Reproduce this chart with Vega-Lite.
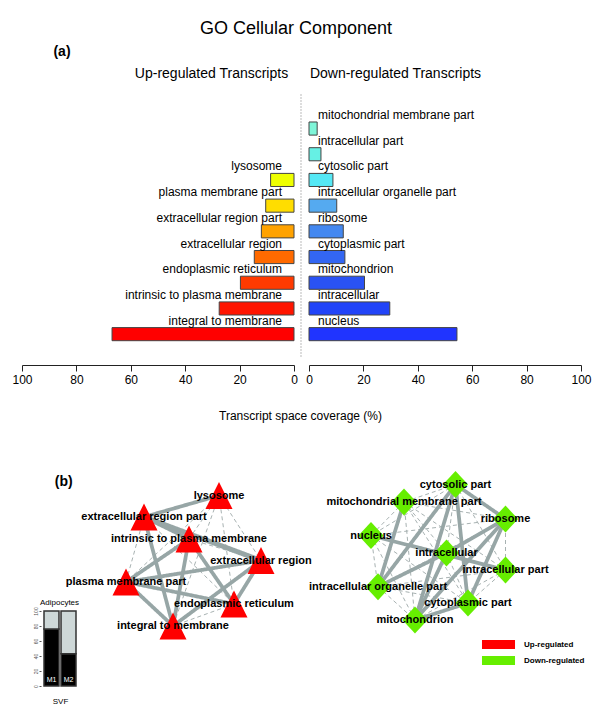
{
  "$schema": "https://vega.github.io/schema/vega-lite/v6.json",
  "width": 600,
  "height": 717,
  "autosize": {"type": "none"},
  "padding": 0,
  "background": "white",
  "config": {
    "view": {"stroke": null},
    "font": "Liberation Sans",
    "axis": {"labelFont": "Liberation Sans", "titleFont": "Liberation Sans", "grid": false, "labelColor": "#000", "titleColor": "#000"},
    "text": {"font": "Liberation Sans", "color": "#000"},
    "legend": {"labelFont": "Liberation Sans"}
  },
  "title": {"text": "GO Cellular Component", "fontSize": 18, "fontWeight": "normal", "font": "Liberation Sans", "color": "#000", "anchor": "middle", "frame": "group", "offset": -38, "dx": -4},
  "datasets": {
    "bars": [
      {"side": "up", "term": "lysosome", "slot": 3, "coverage": 8.6},
      {"side": "up", "term": "plasma membrane part", "slot": 4, "coverage": 10.4},
      {"side": "up", "term": "extracellular region part", "slot": 5, "coverage": 12.0},
      {"side": "up", "term": "extracellular region", "slot": 6, "coverage": 14.6},
      {"side": "up", "term": "endoplasmic reticulum", "slot": 7, "coverage": 19.7},
      {"side": "up", "term": "intrinsic to plasma membrane", "slot": 8, "coverage": 27.5},
      {"side": "up", "term": "integral to membrane", "slot": 9, "coverage": 66.9},
      {"side": "down", "term": "mitochondrial membrane part", "slot": 1, "coverage": 3.0},
      {"side": "down", "term": "intracellular part", "slot": 2, "coverage": 4.4},
      {"side": "down", "term": "cytosolic part", "slot": 3, "coverage": 8.8},
      {"side": "down", "term": "intracellular organelle part", "slot": 4, "coverage": 10.2},
      {"side": "down", "term": "ribosome", "slot": 5, "coverage": 12.6},
      {"side": "down", "term": "cytoplasmic part", "slot": 6, "coverage": 13.2},
      {"side": "down", "term": "mitochondrion", "slot": 7, "coverage": 20.4},
      {"side": "down", "term": "intracellular", "slot": 8, "coverage": 29.7},
      {"side": "down", "term": "nucleus", "slot": 9, "coverage": 54.4}
    ],
    "nodes": [
      {"id": "L", "label": "lysosome", "reg": "Up-regulated", "x": 119, "y": 15.5},
      {"id": "ERP", "label": "extracellular region part", "reg": "Up-regulated", "x": 44, "y": 37},
      {"id": "ITPM", "label": "intrinsic to plasma membrane", "reg": "Up-regulated", "x": 89, "y": 59},
      {"id": "ER", "label": "extracellular region", "reg": "Up-regulated", "x": 161, "y": 80.5},
      {"id": "PMP", "label": "plasma membrane part", "reg": "Up-regulated", "x": 26, "y": 102},
      {"id": "EndR", "label": "endoplasmic reticulum", "reg": "Up-regulated", "x": 134, "y": 124},
      {"id": "ITM", "label": "integral to membrane", "reg": "Up-regulated", "x": 73, "y": 146},
      {"id": "CP", "label": "cytosolic part", "reg": "Down-regulated", "x": 355.5, "y": 4.5},
      {"id": "MMP", "label": "mitochondrial membrane part", "reg": "Down-regulated", "x": 304, "y": 22},
      {"id": "R", "label": "ribosome", "reg": "Down-regulated", "x": 405.5, "y": 39},
      {"id": "N", "label": "nucleus", "reg": "Down-regulated", "x": 271, "y": 55.5},
      {"id": "IC", "label": "intracellular", "reg": "Down-regulated", "x": 346.5, "y": 73},
      {"id": "IP", "label": "intracellular part", "reg": "Down-regulated", "x": 405.5, "y": 90},
      {"id": "IOP", "label": "intracellular organelle part", "reg": "Down-regulated", "x": 278, "y": 106.7},
      {"id": "CYP", "label": "cytoplasmic part", "reg": "Down-regulated", "x": 368, "y": 123},
      {"id": "M", "label": "mitochondrion", "reg": "Down-regulated", "x": 315, "y": 140}
    ],
    "edges": [
      {"s": "L", "t": "ITPM", "k": "weak", "w": 0.2},
      {"s": "L", "t": "ER", "k": "weak", "w": 0.2},
      {"s": "L", "t": "PMP", "k": "weak", "w": 0.2},
      {"s": "L", "t": "EndR", "k": "weak", "w": 0.2},
      {"s": "L", "t": "ITM", "k": "weak", "w": 0.2},
      {"s": "ERP", "t": "PMP", "k": "weak", "w": 0.2},
      {"s": "ERP", "t": "EndR", "k": "weak", "w": 0.2},
      {"s": "ITPM", "t": "ER", "k": "weak", "w": 0.2},
      {"s": "EndR", "t": "ITM", "k": "weak", "w": 0.2},
      {"s": "CP", "t": "MMP", "k": "weak", "w": 0.2},
      {"s": "CP", "t": "N", "k": "weak", "w": 0.2},
      {"s": "CP", "t": "IC", "k": "weak", "w": 0.2},
      {"s": "CP", "t": "IP", "k": "weak", "w": 0.2},
      {"s": "MMP", "t": "R", "k": "weak", "w": 0.2},
      {"s": "MMP", "t": "N", "k": "weak", "w": 0.2},
      {"s": "MMP", "t": "IC", "k": "weak", "w": 0.2},
      {"s": "MMP", "t": "IP", "k": "weak", "w": 0.2},
      {"s": "MMP", "t": "CYP", "k": "weak", "w": 0.2},
      {"s": "MMP", "t": "M", "k": "weak", "w": 0.2},
      {"s": "R", "t": "N", "k": "weak", "w": 0.2},
      {"s": "R", "t": "IP", "k": "weak", "w": 0.2},
      {"s": "R", "t": "IOP", "k": "weak", "w": 0.2},
      {"s": "N", "t": "IC", "k": "weak", "w": 0.2},
      {"s": "N", "t": "IOP", "k": "weak", "w": 0.2},
      {"s": "N", "t": "CYP", "k": "weak", "w": 0.2},
      {"s": "N", "t": "M", "k": "weak", "w": 0.2},
      {"s": "IC", "t": "IP", "k": "weak", "w": 0.2},
      {"s": "IC", "t": "CYP", "k": "weak", "w": 0.2},
      {"s": "IP", "t": "IOP", "k": "weak", "w": 0.2},
      {"s": "IP", "t": "CYP", "k": "weak", "w": 0.2},
      {"s": "IP", "t": "M", "k": "weak", "w": 0.2},
      {"s": "IOP", "t": "CYP", "k": "weak", "w": 0.2},
      {"s": "IOP", "t": "M", "k": "weak", "w": 0.2},
      {"s": "L", "t": "ERP", "k": "strong", "w": 0.75},
      {"s": "ERP", "t": "ITPM", "k": "strong", "w": 0.75},
      {"s": "ERP", "t": "ER", "k": "strong", "w": 1.0},
      {"s": "ERP", "t": "ITM", "k": "strong", "w": 0.75},
      {"s": "ITPM", "t": "PMP", "k": "strong", "w": 0.75},
      {"s": "ITPM", "t": "EndR", "k": "strong", "w": 0.75},
      {"s": "ITPM", "t": "ITM", "k": "strong", "w": 0.75},
      {"s": "ER", "t": "PMP", "k": "strong", "w": 0.75},
      {"s": "ER", "t": "EndR", "k": "strong", "w": 0.75},
      {"s": "ER", "t": "ITM", "k": "strong", "w": 0.75},
      {"s": "PMP", "t": "EndR", "k": "strong", "w": 0.75},
      {"s": "PMP", "t": "ITM", "k": "strong", "w": 0.75},
      {"s": "CP", "t": "R", "k": "strong", "w": 0.75},
      {"s": "CP", "t": "IOP", "k": "strong", "w": 0.75},
      {"s": "CP", "t": "CYP", "k": "strong", "w": 0.75},
      {"s": "CP", "t": "M", "k": "strong", "w": 0.75},
      {"s": "MMP", "t": "IOP", "k": "strong", "w": 0.75},
      {"s": "R", "t": "IC", "k": "strong", "w": 0.75},
      {"s": "R", "t": "CYP", "k": "strong", "w": 0.75},
      {"s": "R", "t": "M", "k": "strong", "w": 0.75},
      {"s": "N", "t": "IP", "k": "strong", "w": 0.75},
      {"s": "IC", "t": "IOP", "k": "strong", "w": 0.75},
      {"s": "IC", "t": "M", "k": "strong", "w": 0.75},
      {"s": "CYP", "t": "M", "k": "strong", "w": 0.75}
    ],
    "inset": [
      {"module": "M1", "cell": "SVF", "pct": 76},
      {"module": "M1", "cell": "Adipocytes", "pct": 24},
      {"module": "M2", "cell": "SVF", "pct": 43},
      {"module": "M2", "cell": "Adipocytes", "pct": 57}
    ]
  },
  "layer": [
    {
      "data": {"name": "bars"},
      "transform": [{"filter": "datum.side === 'up'"}],
      "encoding": {
        "x": {"field": "coverage", "type": "quantitative",
          "scale": {"domain": [0, 100], "range": [294, 22], "nice": false},
          "axis": {"orient": "bottom", "offset": -352, "values": [0, 20, 40, 60, 80, 100], "tickSize": 6, "tickColor": "#222", "domainColor": "#222", "labelFontSize": 12, "labelPadding": 3, "labelFlush": false,
            "title": "Transcript space coverage (%)", "titleFontSize": 12, "titleFontWeight": "normal", "titleX": 300, "titleY": 50, "titleAlign": "center", "titleBaseline": "middle"}},
        "y": {"field": "slot", "type": "ordinal",
          "scale": {"domain": [1, 2, 3, 4, 5, 6, 7, 8, 9], "range": [94, 357], "paddingInner": 0.49, "paddingOuter": 0.8616, "align": 0.632},
          "axis": {"orient": "left", "domain": false, "ticks": false, "labels": false, "title": "Up-regulated Transcripts", "titleAngle": 0, "titleX": 211, "titleY": 73, "titleFontSize": 14, "titleFontWeight": "normal", "titleAlign": "center", "titleBaseline": "middle"}}
      },
      "layer": [
        {"mark": {"type": "bar", "stroke": "#444", "strokeWidth": 1},
          "encoding": {"fill": {"field": "term", "type": "nominal", "legend": null,
            "scale": {"domain": ["lysosome", "plasma membrane part", "extracellular region part", "extracellular region", "endoplasmic reticulum", "intrinsic to plasma membrane", "integral to membrane"],
              "range": ["#EEFF00", "#FFDD00", "#FFA200", "#FF6A00", "#FF3A00", "#FF1500", "#FF0000"]}}}},
        {"mark": {"type": "text", "align": "right", "baseline": "middle", "dx": -12, "dy": -13.5, "fontSize": 12},
          "encoding": {"x": {"datum": 0, "type": "quantitative"}, "text": {"field": "term"}}}
      ]
    },
    {
      "data": {"name": "bars"},
      "transform": [{"filter": "datum.side === 'down'"}],
      "encoding": {
        "x": {"field": "coverage", "type": "quantitative",
          "scale": {"domain": [0, 100], "range": [309, 581], "nice": false},
          "axis": {"orient": "bottom", "offset": -352, "values": [0, 20, 40, 60, 80, 100], "tickSize": 6, "tickColor": "#222", "domainColor": "#222", "labelFontSize": 12, "labelPadding": 3, "labelFlush": false,
            "title": "(a)", "titleFontSize": 14, "titleFontWeight": "bold", "titleX": 61.5, "titleY": -314, "titleAlign": "center", "titleBaseline": "middle"}},
        "y": {"field": "slot", "type": "ordinal",
          "scale": {"domain": [1, 2, 3, 4, 5, 6, 7, 8, 9], "range": [94, 357], "paddingInner": 0.49, "paddingOuter": 0.8616, "align": 0.632},
          "axis": {"orient": "left", "offset": -300.5, "domain": true, "domainDash": [1, 2], "domainColor": "#777", "domainWidth": 1, "ticks": false, "labels": false, "title": "Down-regulated Transcripts", "titleAngle": 0, "titleX": 94.5, "titleY": 73, "titleFontSize": 14, "titleFontWeight": "normal", "titleAlign": "center", "titleBaseline": "middle"}}
      },
      "layer": [
        {"mark": {"type": "bar", "stroke": "#444", "strokeWidth": 1},
          "encoding": {"fill": {"field": "term", "type": "nominal", "legend": null,
            "scale": {"domain": ["mitochondrial membrane part", "intracellular part", "cytosolic part", "intracellular organelle part", "ribosome", "cytoplasmic part", "mitochondrion", "intracellular", "nucleus"],
              "range": ["#7FF5D8", "#66F0E4", "#55E8F5", "#55AAF0", "#4488F0", "#3366F2", "#2A52F4", "#2244F8", "#2034FF"]}}}},
        {"mark": {"type": "text", "align": "left", "baseline": "middle", "dx": 9, "dy": -13.5, "fontSize": 12},
          "encoding": {"x": {"datum": 0, "type": "quantitative"}, "text": {"field": "term"}}}
      ]
    },
    {
      "encoding": {
        "x": {"field": "x", "type": "quantitative", "scale": {"domain": [0, 500], "range": [100, 600], "nice": false, "zero": false},
          "axis": {"orient": "bottom", "offset": -37, "labels": false, "ticks": false, "domain": false, "title": "(b)", "titleFontSize": 14, "titleFontWeight": "bold", "titleX": 63.3, "titleY": -198.3, "titleAlign": "center", "titleBaseline": "middle"}},
        "y": {"field": "y", "type": "quantitative", "scale": {"domain": [0, 200], "range": [480, 680], "nice": false, "zero": false}, "axis": null}
      },
      "layer": [
        {
          "data": {"values": []},
          "mark": {"type": "point", "filled": true, "opacity": 1, "shape": "M-3.67,-1L3.67,-1L3.67,1L-3.67,1Z"},
          "encoding": {
            "color": {"field": "reg", "type": "nominal",
              "scale": {"domain": ["Up-regulated", "Down-regulated"], "range": ["#FF0000", "#66EE00"]},
              "legend": {"title": null, "orient": "none", "legendX": 494, "legendY": 640, "padding": 0, "symbolType": "M-3.67,-1L3.67,-1L3.67,1L-3.67,1Z", "symbolSize": 81, "symbolStrokeWidth": 0, "symbolOpacity": 1, "labelFontSize": 8, "labelFontWeight": "bold", "labelOffset": 21, "rowPadding": 7, "labelColor": "#000"}}
          }
        },
        {
          "data": {"name": "edges"},
          "transform": [
            {"lookup": "s", "from": {"data": {"name": "nodes"}, "key": "id", "fields": ["x", "y"]}, "as": ["x", "y"]},
            {"lookup": "t", "from": {"data": {"name": "nodes"}, "key": "id", "fields": ["x", "y"]}, "as": ["tx", "ty"]}
          ],
          "mark": {"type": "rule"},
          "encoding": {
            "x2": {"field": "tx"},
            "y2": {"field": "ty"},
            "stroke": {"field": "k", "type": "nominal", "legend": null, "scale": {"domain": ["weak", "strong"], "range": ["#A8B2B2", "#97A6A6"]}},
            "strokeDash": {"field": "k", "type": "nominal", "legend": null, "scale": {"domain": ["weak", "strong"], "range": [[4, 3], [1, 0]]}},
            "strokeWidth": {"field": "w", "type": "quantitative", "legend": null, "scale": {"domain": [0, 1], "range": [0, 5]}}
          }
        },
        {
          "data": {"name": "nodes"},
          "transform": [{"filter": "datum.reg === 'Up-regulated'"}],
          "mark": {"type": "point", "filled": true, "opacity": 1, "size": 729, "strokeWidth": 0, "shape": "M0,-1L-1,1L1,1Z"},
          "encoding": {
            "color": {"field": "reg", "type": "nominal", "legend": null,
              "scale": {"domain": ["Up-regulated", "Down-regulated"], "range": ["#FF0000", "#66EE00"]}}
          }
        },
        {
          "data": {"name": "nodes"},
          "transform": [{"filter": "datum.reg === 'Down-regulated'"}],
          "mark": {"type": "point", "filled": true, "opacity": 1, "size": 729, "strokeWidth": 0, "shape": "M0,-1L0.93,0L0,1L-0.93,0Z"},
          "encoding": {
            "color": {"field": "reg", "type": "nominal", "legend": null,
              "scale": {"domain": ["Up-regulated", "Down-regulated"], "range": ["#FF0000", "#66EE00"]}}
          }
        },
        {
          "data": {"name": "nodes"},
          "mark": {"type": "text", "fontSize": 11, "fontWeight": "bold", "align": "center", "baseline": "middle"},
          "encoding": {"text": {"field": "label"}}
        },
        {
          "mark": {"type": "text", "fontSize": 14, "align": "center", "baseline": "middle", "text": "Module 1"},
          "encoding": {"x": {"datum": 97, "type": "quantitative"}, "y": {"datum": 206, "type": "quantitative"}}
        },
        {
          "mark": {"type": "text", "fontSize": 14, "align": "center", "baseline": "middle", "text": "Module 2"},
          "encoding": {"x": {"datum": 348, "type": "quantitative"}, "y": {"datum": 206, "type": "quantitative"}}
        }
      ]
    },
    {
      "data": {"name": "inset"},
      "encoding": {
        "x": {"field": "module", "type": "nominal",
          "scale": {"domain": ["M1", "M2"], "range": [44, 76], "paddingInner": 0.12, "paddingOuter": 0},
          "axis": {"orient": "bottom", "offset": -31, "labels": false, "ticks": false, "domain": false, "title": "SVF", "titleFontSize": 8, "titleFontWeight": "normal", "titleX": 60, "titleY": 15, "titleAlign": "center", "titleBaseline": "middle"}}
      },
      "layer": [
        {
          "mark": {"type": "bar", "stroke": "#333", "strokeWidth": 1.5},
          "encoding": {
            "y": {"field": "pct", "type": "quantitative", "stack": "zero",
              "scale": {"domain": [0, 100], "range": [686, 611], "nice": false},
              "axis": {"orient": "left", "offset": -41, "values": [0, 20, 40, 60, 80, 100], "labelAngle": -90, "labelFontSize": 5, "labelColor": "#555", "tickSize": 2, "tickColor": "#555", "domain": false, "labelPadding": 1, "labelAlign": "center", "labelBaseline": "bottom",
                "title": "Adipocytes", "titleAngle": 0, "titleX": 18, "titleY": 602, "titleFontSize": 8, "titleFontWeight": "normal", "titleAlign": "center", "titleBaseline": "middle"}},
            "fill": {"field": "cell", "type": "nominal", "legend": null, "scale": {"domain": ["SVF", "Adipocytes"], "range": ["#000000", "#CED8D8"]}},
            "order": {"field": "cell", "sort": "descending"}
          }
        },
        {
          "transform": [{"filter": "datum.cell === 'SVF'"}],
          "mark": {"type": "text", "color": "white", "fontSize": 7, "dy": -6, "baseline": "middle"},
          "encoding": {
            "y": {"datum": 0, "type": "quantitative"},
            "text": {"field": "module"}
          }
        }
      ]
    }
  ],
  "resolve": {
    "scale": {"x": "independent", "y": "independent", "fill": "independent"},
    "axis": {"x": "independent", "y": "independent"}
  }
}
